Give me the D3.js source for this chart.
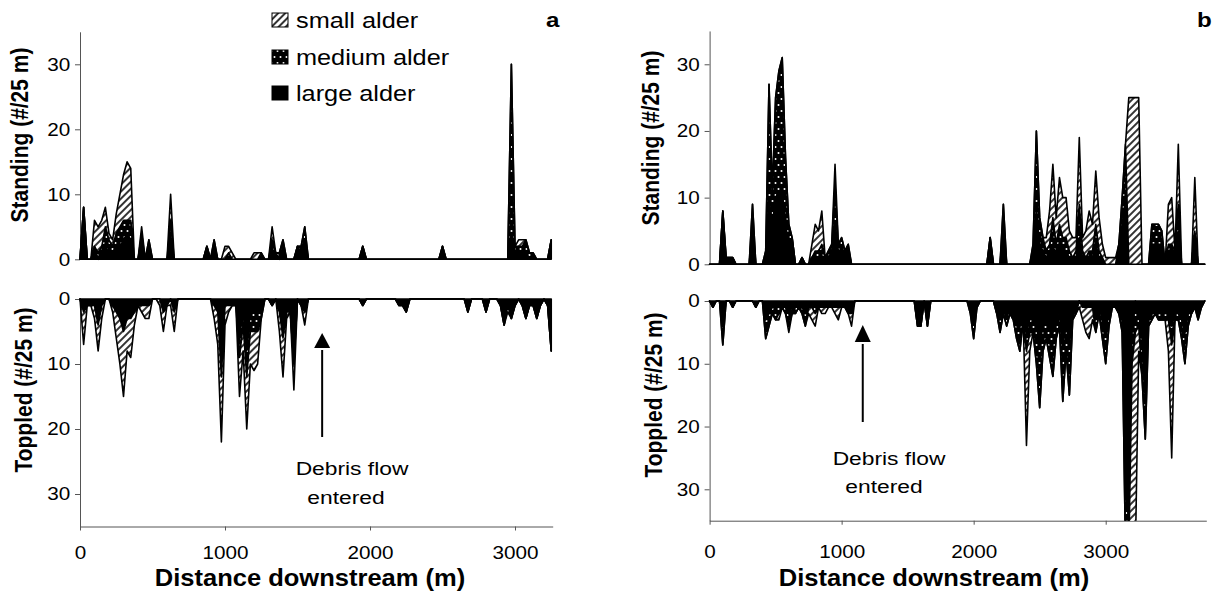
<!DOCTYPE html>
<html>
<head>
<meta charset="utf-8">
<title>Standing and toppled alder along the channel</title>
<script src="https://d3js.org/d3.v7.min.js"></script>
<style>
  body { margin: 0; background: #fff; }
  svg { font-family: "Liberation Sans", Arial, sans-serif; }
  .axis path, .axis line { stroke: #555; stroke-width: 1px; }
  .axis text { font-size: 18px; fill: #000; font-family: "Liberation Sans", Arial, sans-serif; }
</style>
</head>
<body>
<svg width="1212" height="591"></svg>
<script>
// trees per 25 m reach, one value per reach starting at 0 m
const distA = d3.range(0, 3251, 25);   // 131 reaches
const distB = d3.range(0, 3751, 25);   // 151 reaches
const sizeKeys = ['large', 'medium', 'small'];
const legendLabels = ['small alder', 'medium alder', 'large alder'];
const yTicks = [0, 10, 20, 30];
const xTicks = [0, 1000, 2000, 3000];
const debrisA = 1670, debrisB = 1160;

// panel a, standing
const standA_small = [
  0,0,0,0,4,4,4,3,1,1, 3,5,7,9,8,0,0,1,0,0, 0,0,0,0,0,4,0,0,0,0, 0,0,0,0,0,0,0,0,0,0,
  2,1,1,0,0,0,0,0,1,1, 0,0,0,2,0,0,0,0,0,0, 0,0,0,0,0,0,0,0,0,0, 0,0,0,0,0,0,0,0,0,0,
  0,0,0,0,0,0,0,0,0,0, 0,0,0,0,0,0,0,0,0,0, 0,0,0,0,0,0,0,0,0,0, 0,0,0,0,0,0,0,0,0,0,
  0,1,1,0,0,0,0,0,0,0, 0];
const standA_medium = [
  0,0,0,0,0,1,1,3,2,1, 2,3,3,2,3,0,0,1,0,1, 0,0,0,0,0,3,0,0,0,0, 0,0,0,0,0,0,0,1,0,0,
  0,1,0,0,0,0,0,0,0,0, 1,0,0,2,0,1,1,0,0,0, 0,1,2,0,0,0,0,0,0,0, 0,0,0,0,0,0,0,0,0,0,
  0,0,0,0,0,0,0,0,0,0, 0,0,0,0,0,0,0,0,0,0, 0,0,0,0,0,0,0,0,0,0, 0,0,0,0,0,0,0,0,0,26,
  1,1,1,2,1,1,0,0,0,0, 0];
const standA_large = [
  0,8,0,0,2,0,1,2,1,1, 2,2,3,4,3,0,0,3,0,2, 0,0,0,0,0,3,0,0,0,0, 0,0,0,0,0,2,0,2,0,0,
  0,0,0,0,0,0,0,0,0,0, 0,0,0,1,1,0,2,0,0,0, 2,1,3,0,0,0,0,0,0,0, 0,0,0,0,0,0,0,0,2,0,
  0,0,0,0,0,0,0,0,0,0, 0,0,0,0,0,0,0,0,0,0, 2,0,0,0,0,0,0,0,0,0, 0,0,0,0,0,0,0,0,0,4,
  1,1,1,1,0,0,0,0,0,0, 3];

// panel a, toppled
const toppA_small = [
  0,5,0,0,2,4,2,0,0,1, 4,7,10,5,6,2,0,1,2,2, 0,0,1,3,0,1,3,0,0,0, 0,0,0,0,0,0,0,2,5,10,
  3,1,0,0,6,4,8,5,6,5, 0,0,0,0,0,3,6,1,0,4, 0,0,2,0,0,0,0,0,0,0, 0,0,0,0,0,0,0,0,0,0,
  0,0,0,0,0,0,0,0,0,0, 0,0,0,0,0,0,0,0,0,0, 0,0,0,0,0,0,0,0,0,0, 0,0,0,0,0,0,0,0,1,0,
  0,0,0,0,0,0,0,0,0,0, 0];
const toppA_medium = [
  0,0,0,0,0,0,0,0,0,0, 0,0,0,0,0,0,0,0,0,0, 0,0,0,0,0,0,0,0,0,0, 0,0,0,0,0,0,0,0,0,2,
  0,0,0,0,3,2,4,3,3,3, 1,0,0,0,0,0,0,0,0,0, 0,0,0,0,0,0,0,0,0,0, 0,0,0,0,0,0,0,0,0,0,
  0,0,0,0,0,0,0,0,0,0, 0,0,0,0,0,0,0,0,0,0, 0,0,0,0,0,0,0,0,0,0, 0,0,0,0,0,0,0,0,0,0,
  0,0,0,0,0,0,0,0,0,0, 0];
const toppA_large = [
  0,2,1,1,1,4,1,0,0,1, 2,3,5,3,3,2,1,1,1,1, 0,0,0,2,1,0,2,0,0,0, 0,0,0,0,0,0,0,1,2,10,
  1,1,1,1,6,2,8,2,2,2, 2,0,0,1,0,2,6,2,2,10, 0,1,2,0,0,0,0,0,0,0, 0,0,0,0,0,0,0,0,1,0,
  0,0,0,0,0,0,0,0,1,1, 2,0,0,0,0,0,0,0,0,0, 0,0,0,0,0,0,0,2,0,0, 0,0,2,0,0,0,1,4,1,3,
  1,0,1,3,1,1,3,1,0,1, 8];

// panel b, standing
const standB_small = [
  0,0,0,0,0,0,0,0,0,0, 0,0,0,0,0,0,0,0,0,0, 0,0,0,0,0,0,0,0,0,0, 0,2,4,3,5,0,0,0,3,0,
  0,0,0,0,0,0,0,0,0,0, 0,0,0,0,0,0,0,0,0,0, 0,0,0,0,0,0,0,0,0,0, 0,0,0,0,0,0,0,0,0,0,
  0,0,0,0,0,0,0,0,0,0, 0,0,0,0,0,0,0,0,0,0, 0,0,2,5,8,4,7,6,6,3, 3,2,10,2,4,6,4,8,5,2,
  1,1,1,1,0,0,0,25,25,25, 25,0,0,0,0,0,0,0,0,6, 7,0,9,0,0,0,0,8,0,0, 0];
const standB_medium = [
  0,0,0,0,0,0,0,0,0,0, 0,0,0,3,0,0,0,1,17,5, 15,18,20,10,3,0,0,0,0,0, 0,0,1,1,2,0,1,1,6,1,
  2,0,1,0,0,0,0,0,0,0, 0,0,0,0,0,0,0,0,0,0, 0,0,0,0,0,0,0,0,0,0, 0,0,0,0,0,0,0,0,0,0,
  0,0,0,0,0,0,0,0,0,3, 0,0,0,0,0,0,0,0,1,12, 4,2,1,2,4,2,3,2,2,1, 0,1,5,1,0,1,1,3,1,0,
  0,0,0,0,0,4,8,0,0,0, 0,0,0,0,3,3,3,2,0,1, 1,0,4,0,0,0,0,0,0,0, 0];
const standB_large = [
  0,0,0,0,8,1,1,1,0,0, 0,0,0,6,0,0,0,1,10,6, 10,11,11,6,3,4,0,0,1,0, 0,1,1,1,1,1,1,2,6,2,
  2,2,2,0,0,0,0,0,0,0, 0,0,0,0,0,0,0,0,0,0, 0,0,0,0,0,0,0,0,0,0, 0,0,0,0,0,0,0,0,0,0,
  0,0,0,0,0,4,0,0,0,6, 0,0,0,0,0,0,0,0,2,8, 3,2,1,1,3,1,3,2,2,1, 1,1,4,1,1,1,1,3,1,1,
  0,0,0,0,3,6,10,0,0,0, 0,0,0,0,3,3,3,3,0,2, 2,2,5,0,0,0,0,5,0,0, 0];

// panel b, toppled
const toppB_small = [
  0,0,0,0,0,0,0,0,0,0, 0,0,0,0,0,0,0,0,0,0, 0,1,0,0,1,0,0,0,0,0, 1,2,2,0,1,1,0,0,1,2,
  0,0,0,2,0,0,0,0,0,0, 0,0,0,0,0,0,0,0,0,0, 0,0,0,0,0,0,0,0,0,0, 0,0,0,0,0,0,0,0,0,0,
  0,0,0,0,0,0,0,0,0,0, 0,0,0,0,0,0,15,3,0,0, 0,0,0,0,0,0,0,0,0,0, 0,0,1,2,4,5,2,0,0,0,
  0,0,0,0,0,0,0,0,30,35, 4,0,0,0,0,0,0,0,0,5, 18,0,0,0,0,0,0,0,0,0, 0];
const toppB_medium = [
  0,0,0,0,3,0,0,0,0,0, 0,0,0,0,0,0,0,3,2,1, 2,1,0,1,2,1,1,0,1,2, 0,0,1,0,0,0,0,0,0,0,
  0,0,1,0,0,0,0,0,0,0, 0,0,0,0,0,0,0,0,0,0, 0,0,0,0,0,0,0,0,0,0, 0,0,0,0,0,0,0,0,0,1,
  3,0,0,0,0,0,0,0,2,0, 2,0,1,3,4,1,3,2,3,6, 10,4,3,5,7,3,2,9,4,8, 1,0,0,0,0,0,0,2,1,3,
  5,2,0,0,0,2,10,5,5,5, 2,6,6,2,1,0,1,1,1,1, 3,1,1,3,5,2,0,0,1,0, 0];
const toppB_large = [
  0,1,0,0,4,0,0,1,0,0, 0,0,0,0,1,0,0,3,2,1, 1,1,1,1,2,1,1,1,1,2, 1,1,1,1,1,1,1,1,1,1,
  1,1,1,2,0,0,0,0,0,0, 0,0,0,0,0,0,0,0,0,0, 0,0,0,4,4,0,4,0,0,0, 0,0,0,0,0,0,0,0,0,1,
  3,1,0,0,0,0,0,2,3,2, 2,2,2,3,4,2,5,3,2,4, 7,4,3,4,5,3,2,7,4,7, 2,2,0,1,1,1,1,3,1,3,
  5,2,1,1,2,3,30,35,5,0, 2,6,16,2,2,2,2,2,2,2, 4,2,2,3,5,2,2,1,2,1, 0];

const SX = 1.15; // the printed figure is slightly wider than tall

const svg = d3.select('svg');
const defs = svg.append('defs');

const hatch = defs.append('pattern').attr('id', 'hatch')
  .attr('patternUnits', 'userSpaceOnUse').attr('width', 5).attr('height', 5)
  .attr('patternTransform', 'rotate(45)');
hatch.append('rect').attr('width', 5).attr('height', 5).attr('fill', '#fff');
hatch.append('line').attr('x1', 1).attr('y1', 0).attr('x2', 1).attr('y2', 5)
  .attr('stroke', '#000').attr('stroke-width', 1.6);

const dots = defs.append('pattern').attr('id', 'dots')
  .attr('patternUnits', 'userSpaceOnUse').attr('width', 6).attr('height', 12);
dots.append('rect').attr('width', 6).attr('height', 12).attr('fill', '#000');
dots.append('circle').attr('cx', 1.5).attr('cy', 3).attr('r', 1).attr('fill', '#fff');
dots.append('circle').attr('cx', 4.5).attr('cy', 9).attr('r', 1).attr('fill', '#fff');

const fills = { small: 'url(#hatch)', medium: 'url(#dots)', large: '#000' };

function addText(str, x, y, size, weight, anchor, rot, sx) {
  svg.append('text')
    .attr('transform', `translate(${x},${y}) scale(${sx},1)` + (rot ? ` rotate(${rot})` : ''))
    .attr('text-anchor', anchor)
    .attr('dy', '0.35em')
    .attr('font-size', size)
    .attr('font-weight', weight)
    .text(str);
}

function drawStack(rows, x, y, clipId) {
  const series = d3.stack().keys(sizeKeys)(rows);
  const area = d3.area()
    .x(d => x(d.data.dist))
    .y0(d => y(d[0]))
    .y1(d => y(d[1]));
  svg.append('g').attr('clip-path', `url(#${clipId})`)
    .selectAll('path')
    .data(series)
    .join('path')
      .attr('d', area)
      .attr('fill', s => fills[s.key])
      .attr('stroke', '#000')
      .attr('stroke-width', 1.6)
      .attr('stroke-linejoin', 'round');
}

function drawPanel(p) {
  const x = d3.scaleLinear().domain([0, p.xMax]).range([p.x0, p.x1]);
  const yS = d3.scaleLinear().domain([0, 35]).range([p.sBase, p.sTop]);
  const yT = d3.scaleLinear().domain([0, 35]).range([p.tBase, p.tBottom]);

  const standRows = p.dist.map((d, i) => ({ dist: d, small: p.stand[0][i], medium: p.stand[1][i], large: p.stand[2][i] }));
  const toppRows = p.dist.map((d, i) => ({ dist: d, small: p.topp[0][i], medium: p.topp[1][i], large: p.topp[2][i] }));

  defs.append('clipPath').attr('id', 'clipS' + p.id).append('rect')
    .attr('x', p.x0 - 2).attr('y', p.sTop).attr('width', p.x1 - p.x0 + 6).attr('height', p.sBase - p.sTop + 3);
  defs.append('clipPath').attr('id', 'clipT' + p.id).append('rect')
    .attr('x', p.x0 - 2).attr('y', p.tBase - 3).attr('width', p.x1 - p.x0 + 6).attr('height', p.tBottom - p.tBase + 3);

  // axes
  const ayS = svg.append('g').attr('class', 'axis').attr('transform', `translate(${p.x0},0)`)
    .call(d3.axisLeft(yS).tickValues(yTicks).tickSize(5).tickSizeOuter(0));
  const ayT = svg.append('g').attr('class', 'axis').attr('transform', `translate(${p.x0},0)`)
    .call(d3.axisLeft(yT).tickValues(yTicks).tickSize(5).tickSizeOuter(0));
  [ayS, ayT].forEach(a => a.selectAll('text').attr('x', -8.5).attr('transform', `scale(${SX},1)`));

  const ax = svg.append('g').attr('class', 'axis').attr('transform', `translate(0,${p.tBottom})`)
    .call(d3.axisBottom(x).tickValues(xTicks).tickFormat(d3.format('d')).tickSize(4).tickSizeOuter(0));
  ax.selectAll('text').attr('dy', null).attr('y', p.xLab).attr('transform', `scale(${SX},1)`);

  drawStack(standRows, x, yS, 'clipS' + p.id);
  drawStack(toppRows, x, yT, 'clipT' + p.id);

  // debris flow arrow
  const xa = x(p.debris);
  svg.append('line').attr('x1', xa).attr('x2', xa).attr('y1', p.arrow[0]).attr('y2', p.arrow[1] + 2)
    .attr('stroke', '#000').attr('stroke-width', 2);
  svg.append('path')
    .attr('d', `M${xa - 8},${p.arrow[1]} L${xa + 8},${p.arrow[1]} L${xa},${p.arrow[2]} Z`)
    .attr('fill', '#000');
  addText('Debris flow', p.note[0], p.note[1], 19, 'normal', 'middle', 0, 1.2);
  addText('entered', p.note[2], p.note[3], 19, 'normal', 'middle', 0, 1.2);

  // titles
  addText('Standing (#/25 m)', p.titleS[0], p.titleS[1], 21, 'bold', 'middle', -90, SX);
  addText('Toppled (#/25 m)', p.titleT[0], p.titleT[1], 21, 'bold', 'middle', -90, SX);
  addText('Distance downstream (m)', p.titleX[0], p.titleX[1], 23, 'bold', 'middle', 0, 1.11);
  addText(p.id, p.tag[0], p.tag[1], 21, 'bold', 'start', 0, SX);
}

drawPanel({
  id: 'a', dist: distA, xMax: 3260, x0: 80, x1: 80 + 3260 * 0.145,
  sBase: 259.3, sTop: 259.3 - 35 * 6.5, tBase: 299, tBottom: 299 + 35 * 6.5,
  stand: [standA_small, standA_medium, standA_large],
  topp: [toppA_small, toppA_medium, toppA_large],
  debris: debrisA, arrow: [437, 348, 333], note: [352, 468, 346, 497],
  titleS: [20, 135], titleT: [24, 390], titleX: [310, 578], tag: [546, 20], xLab: 33
});

drawPanel({
  id: 'b', dist: distB, xMax: 3762, x0: 709.6, x1: 709.6 + 3762 * 0.13203,
  sBase: 264.3, sTop: 264.3 - 35 * 6.667, tBase: 301, tBottom: 301 + 35 * 6.277,
  stand: [standB_small, standB_medium, standB_large],
  topp: [toppB_small, toppB_medium, toppB_large],
  debris: debrisB, arrow: [422, 342, 325], note: [889, 458, 884, 486],
  titleS: [651, 138], titleT: [654, 395], titleX: [934, 578], tag: [1197, 20], xLab: 37
});

// legend
const legendKeys = ['small', 'medium', 'large'];
const legendY = [20, 57, 93];
legendKeys.forEach((k, i) => {
  svg.append('rect').attr('x', 272).attr('y', legendY[i] - 7).attr('width', 16).attr('height', 14)
    .attr('fill', fills[k]).attr('stroke', '#000').attr('stroke-width', 1);
  addText(legendLabels[i], 296, legendY[i], 22, 'normal', 'start', 0, SX);
});
</script>
</body>
</html>
